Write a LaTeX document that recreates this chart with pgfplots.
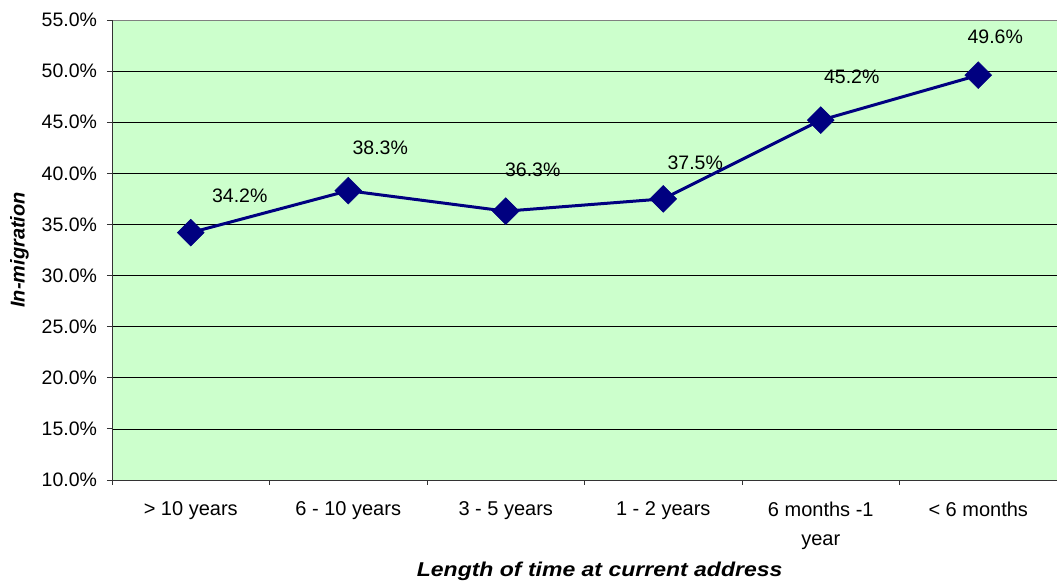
\documentclass[border=0pt]{standalone}
\usepackage{pgfplots}
\pgfplotsset{compat=1.18}
\usepackage{fontspec}
\setmainfont{Liberation Sans}
\newfontfamily\titlefont[FakeStretch=1.15]{Liberation Sans}
\definecolor{plotbg}{HTML}{CCFFCC}
\definecolor{navyline}{HTML}{000080}
\begin{document}
\begin{tikzpicture}[x=1pt,y=1pt]
\useasboundingbox (-112,-105) rectangle (945,480);
\begin{axis}[
  at={(0,0)}, anchor=south west,
  scale only axis, width=945pt, height=460pt,
  xmin=-0.5, xmax=5.5, ymin=10, ymax=55,
  axis background/.style={fill=plotbg, draw=gray, line width=0.8pt},
  axis x line*=bottom, axis y line*=left,
  axis line style={black!80, line width=0.8pt, -},
  xtick={-0.5,0.5,...,5.5},
  x tick label as interval,
  xticklabels={{> 10 years},{6 - 10 years},{3 - 5 years},{1 - 2 years},{6 months -1\\year},{< 6 months}},
  x tick label style={align=center, yshift=-13pt, font=\fontsize{20}{29}\selectfont},
  ytick={10,15,...,50},
  extra y ticks={55}, extra y tick style={grid=none},
  yticklabel={\pgfmathprintnumber[fixed,fixed zerofill,precision=1]{\tick}\%},
  y tick label style={font=\fontsize{19.5}{22}\selectfont, xshift=-6.5pt},
  /pgf/number format/assume math mode=true,
  tick align=outside, major tick length=5pt,
  tick style={black!80, line width=0.8pt},
  ymajorgrids, grid style={black, line width=0.6pt},
  xlabel={\titlefont\fontsize{20}{22}\selectfont\textbf{\textit{Length of time at current address}}},
  ylabel={\fontsize{20}{22}\selectfont\textbf{\textit{In-migration}}},
  every axis x label/.style={at={(axis description cs:0.516,-0.198)}, anchor=center},
  every axis y label/.style={at={(axis description cs:-0.098,0.5)}, rotate=90, anchor=center},
  clip=false,
  nodes near coords={\pgfmathprintnumber[fixed,fixed zerofill,precision=1]{\pgfplotspointmeta}\%},
  visualization depends on={\thisrow{dx}\as\dx},
  visualization depends on={\thisrow{dy}\as\dy},
  every node near coord/.append style={font=\fontsize{19.5}{22}\selectfont, anchor=center, xshift=\dx pt, yshift=\dy pt, text=black},
]
\addplot[navyline, line width=3pt, mark=square*, mark size=9.5pt,
  mark options={rotate=45, fill=navyline, draw=navyline, line width=0.5pt}]
  table[x=x, y=y] {
  x y    dx dy
  0 34.2 49 37
  1 38.3 32 43
  2 36.3 27 41
  3 37.5 32 36
  4 45.2 31 43
  5 49.6 17 38
};
\end{axis}
\end{tikzpicture}
\end{document}
